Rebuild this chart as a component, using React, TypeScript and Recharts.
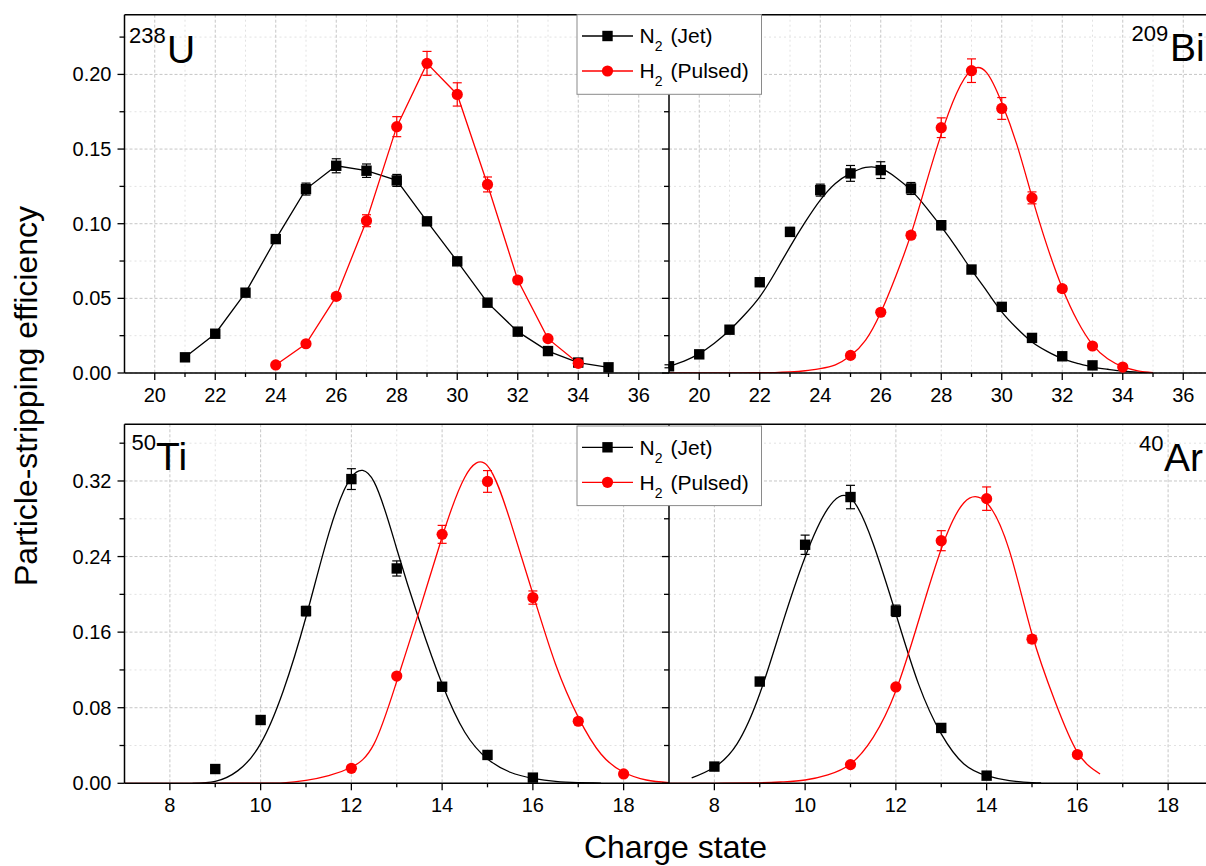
import { CartesianGrid, ComposedChart, ErrorBar, Line, ReferenceLine, Scatter, XAxis, YAxis } from 'recharts'

const FONT = 'Arial, "Liberation Sans", sans-serif'

// tick values
const topXTicks = [20, 21, 22, 23, 24, 25, 26, 27, 28, 29, 30, 31, 32, 33, 34, 35, 36]
const botXTicks = [8, 9, 10, 11, 12, 13, 14, 15, 16, 17, 18]
const topYTicks = [0, 0.025, 0.05, 0.075, 0.1, 0.125, 0.15, 0.175, 0.2, 0.225]
const botYTicks = [0, 0.04, 0.08, 0.12, 0.16, 0.2, 0.24, 0.28, 0.32, 0.36]

// 238U (measured, points joined)
const uN2X = [21, 22, 23, 24, 25, 26, 27, 28, 29, 30, 31, 32, 33, 34, 35]
const uN2Y = [0.0105, 0.0263, 0.0538, 0.0897, 0.1232, 0.1388, 0.1355, 0.129, 0.1016, 0.0748, 0.0471, 0.0277, 0.0147, 0.007, 0.0038]
const uN2Err = [0.0015, 0.0015, 0.0015, 0.002, 0.004, 0.0047, 0.0045, 0.004, 0.002, 0.0015, 0.0015, 0.001, 0.001, 0.001, 0.001]
const uH2X = [24, 25, 26, 27, 28, 29, 30, 31, 32, 33, 34]
const uH2Y = [0.0054, 0.0196, 0.0513, 0.102, 0.165, 0.2074, 0.1866, 0.1263, 0.0623, 0.023, 0.0065]
const uH2Err = [0.001, 0.001, 0.002, 0.004, 0.0067, 0.008, 0.0078, 0.005, 0.002, 0.001, 0.001]

// 209Bi
const biN2X = [19, 20, 21, 22, 23, 24, 25, 26, 27, 28, 29, 30, 31, 32, 33]
const biN2Y = [0.0045, 0.0125, 0.029, 0.0608, 0.0945, 0.1225, 0.1337, 0.1359, 0.1236, 0.099, 0.0693, 0.0443, 0.0235, 0.0112, 0.0051]
const biN2Err = [0.001, 0.001, 0.0015, 0.002, 0.003, 0.004, 0.0053, 0.0056, 0.004, 0.003, 0.002, 0.0015, 0.001, 0.001, 0.001]
const biH2X = [25, 26, 27, 28, 29, 30, 31, 32, 33, 34]
const biH2Y = [0.0118, 0.0407, 0.0923, 0.1643, 0.2025, 0.1772, 0.1173, 0.0565, 0.0181, 0.004]
const biH2Err = [0.001, 0.0015, 0.002, 0.0066, 0.0079, 0.0073, 0.004, 0.002, 0.001, 0.001]
const biFitX = [19, 19.5, 20, 20.5, 21, 21.5, 22, 22.5, 23, 23.5, 24, 24.5, 25, 25.5, 26, 26.5, 27, 27.5, 28, 28.5, 29, 29.5, 30, 30.5, 31, 31.5, 32, 32.5, 33, 33.5, 34, 34.5, 35]
const biN2FitY = [0.0045, 0.008, 0.013, 0.02, 0.0286, 0.039, 0.051, 0.067, 0.0845, 0.101, 0.1158, 0.127, 0.1337, 0.1377, 0.137, 0.131, 0.1225, 0.111, 0.098, 0.084, 0.069, 0.055, 0.041, 0.03, 0.0208, 0.0145, 0.0096, 0.0065, 0.004, 0.0025, 0.0013, 0.0006, 0.0002]
const biH2FitY = [0, 0, 0, 0, 0, 0.0001, 0.0002, 0.0003, 0.0007, 0.0015, 0.003, 0.0055, 0.0115, 0.022, 0.0405, 0.065, 0.093, 0.127, 0.16, 0.187, 0.2029, 0.2012, 0.181, 0.153, 0.118, 0.085, 0.057, 0.035, 0.019, 0.0095, 0.0042, 0.0014, 0.0002]

// 50Ti
const tiN2X = [9, 10, 11, 12, 13, 14, 15, 16]
const tiN2Y = [0.0151, 0.067, 0.1823, 0.322, 0.2274, 0.1022, 0.03, 0.006]
const tiN2Err = [0.001, 0.002, 0.005, 0.011, 0.008, 0.002, 0.001, 0.001]
const tiH2X = [12, 13, 14, 15, 16, 17, 18]
const tiH2Y = [0.0159, 0.1135, 0.2635, 0.3195, 0.1966, 0.0657, 0.0099]
const tiH2Err = [0.001, 0.002, 0.0095, 0.0115, 0.007, 0.002, 0.001]
const tiN2FitX = [8.5, 9, 9.5, 10, 10.5, 11, 11.5, 12, 12.5, 13, 13.5, 14, 14.5, 15, 15.5, 16, 16.5, 17, 17.5]
const tiN2FitY = [0, 0.002, 0.0134, 0.042, 0.098, 0.176, 0.264, 0.324, 0.319, 0.248, 0.172, 0.105, 0.054, 0.0258, 0.0117, 0.0053, 0.002, 0.0007, 0.0002]
const tiH2FitX = [7, 8, 9, 10, 10.5, 11, 11.5, 12, 12.5, 13, 13.5, 14, 14.5, 15, 15.5, 16, 16.5, 17, 17.5, 18, 18.5, 19]
const tiH2FitY = [0, 0, 0, 0.0001, 0.0004, 0.003, 0.008, 0.017, 0.0417, 0.108, 0.183, 0.2607, 0.324, 0.336, 0.278, 0.2006, 0.126, 0.07, 0.031, 0.0117, 0.0035, 0.0007]

// 40Ar
const arN2X = [8, 9, 10, 11, 12, 13, 14]
const arN2Y = [0.0177, 0.1077, 0.2525, 0.303, 0.1826, 0.0586, 0.0081]
const arN2Err = [0.001, 0.002, 0.0102, 0.0124, 0.006, 0.002, 0.001]
const arH2X = [11, 12, 13, 14, 15, 16]
const arH2Y = [0.0198, 0.102, 0.2568, 0.3013, 0.1526, 0.0304]
const arH2Err = [0.001, 0.002, 0.0106, 0.0124, 0.004, 0.002]
const arN2FitX = [7.5, 8, 8.5, 9, 9.5, 10, 10.5, 11, 11.5, 12, 12.5, 13, 13.5, 14, 14.5, 15, 15.2]
const arN2FitY = [0.0057, 0.017, 0.0417, 0.0947, 0.169, 0.2395, 0.2907, 0.302, 0.2536, 0.1794, 0.105, 0.0523, 0.0205, 0.0081, 0.0028, 0.0007, 0.0004]
const arH2FitX = [7, 8, 9, 9.5, 10, 10.5, 11, 11.5, 12, 12.5, 13, 13.5, 14, 14.5, 15, 15.5, 16, 16.5]
const arH2FitY = [0, 0, 0.0005, 0.0015, 0.0035, 0.009, 0.0205, 0.0487, 0.098, 0.172, 0.248, 0.297, 0.297, 0.2465, 0.158, 0.0876, 0.033, 0.0099]

const gases = [
  { main: 'N', sub: '2', rest: '(Jet)', color: '#000000', shape: 'square' },
  { main: 'H', sub: '2', rest: '(Pulsed)', color: '#ff0000', shape: 'circle' },
]

const pts = (xs: number[], ys: number[], errs?: number[]) =>
  xs.map((x, i) => ({ x, y: ys[i], err: errs ? errs[i] : 0 }))

const PLOT_W = 544.5

const Square = (p: any) => <rect x={p.cx - 5.2} y={p.cy - 5.2} width={10.4} height={10.4} fill="#000" />
const Circle = (p: any) => <circle cx={p.cx} cy={p.cy} r={5.6} fill="#ff0000" />

function XTick(props: any) {
  const { x, y, payload } = props
  const major = payload.value % 2 === 0
  return (
    <g>
      <line x1={x} y1={y} x2={x} y2={y + (major ? 7 : 4)} stroke="#000" strokeWidth={1.3} />
      {major && (
        <text x={x} y={y + 29} textAnchor="middle" fontSize={20} fontFamily={FONT} fill="#000">
          {payload.value}
        </text>
      )}
    </g>
  )
}

function YTick(props: any) {
  const { x, y, payload, index, showLabel } = props
  const major = index % 2 === 0
  return (
    <g>
      <line x1={x - (major ? 7 : 5)} y1={y} x2={x} y2={y} stroke="#000" strokeWidth={1.3} />
      {major && showLabel && (
        <text x={x - 13} y={y + 7} textAnchor="end" fontSize={20} fontFamily={FONT} fill="#000">
          {payload.value.toFixed(2)}
        </text>
      )}
    </g>
  )
}

type Series = { x: number[]; y: number[]; err?: number[]; color: string; square: boolean }

function Panel(props: {
  left: number
  top: number
  plotTop: number
  plotH: number
  yAxisW: number
  showYLabels: boolean
  xDomain: [number, number]
  xTicks: number[]
  yDomain: [number, number]
  yTicks: number[]
  fits: Series[]
  points: Series[]
  joinPoints?: boolean
}) {
  const { left, top, plotTop, plotH, yAxisW, showYLabels, xDomain, xTicks, yDomain, yTicks, fits, points, joinPoints } = props
  const width = yAxisW + PLOT_W + 10
  const height = plotTop + plotH + 40
  const majorX = xTicks.filter(v => v % 2 === 0)
  const minorX = xTicks.filter(v => v % 2 !== 0)
  const majorY = yTicks.filter((_, i) => i % 2 === 0)
  const minorY = yTicks.filter((_, i) => i % 2 !== 0)
  return (
    <div style={{ position: 'absolute', left, top }}>
      <ComposedChart width={width} height={height} margin={{ top: plotTop, right: 10, bottom: 0, left: 0 }}>
        <CartesianGrid horizontalValues={minorY} verticalValues={minorX} stroke="#e2e2e2" strokeDasharray="2 3" />
        <CartesianGrid horizontalValues={majorY} verticalValues={majorX} stroke="#c6c6c6" strokeDasharray="3 2" />
        <XAxis
          type="number"
          dataKey="x"
          domain={xDomain}
          ticks={xTicks}
          interval={0}
          allowDataOverflow
          height={40}
          tickSize={0}
          tickMargin={0}
          tickLine={false}
          tick={<XTick />}
          axisLine={{ stroke: '#000', strokeWidth: 1.5 }}
        />
        <YAxis
          type="number"
          dataKey="y"
          domain={yDomain}
          ticks={yTicks}
          interval={0}
          allowDataOverflow
          width={yAxisW}
          tickSize={0}
          tickMargin={0}
          tickLine={false}
          tick={<YTick showLabel={showYLabels} />}
          axisLine={{ stroke: '#000', strokeWidth: 1.5 }}
        />
        <ReferenceLine y={yDomain[1]} stroke="#000" strokeWidth={1.5} />
        {fits.map((s, i) => (
          <Line
            key={'f' + i}
            data={pts(s.x, s.y)}
            dataKey="y"
            type="natural"
            stroke={s.color}
            strokeWidth={1.3}
            dot={false}
            isAnimationActive={false}
          />
        ))}
        {joinPoints &&
          points.map((s, i) => (
            <Line
              key={'j' + i}
              data={pts(s.x, s.y)}
              dataKey="y"
              type="linear"
              stroke={s.color}
              strokeWidth={1.3}
              dot={false}
              isAnimationActive={false}
            />
          ))}
        {points.map((s, i) => (
          <Scatter
            key={'p' + i}
            data={pts(s.x, s.y, s.err)}
            dataKey="y"
            shape={s.square ? Square : Circle}
            isAnimationActive={false}
          >
            <ErrorBar dataKey="err" direction="y" width={4.5} stroke={s.color} strokeWidth={1.2} isAnimationActive={false} />
          </Scatter>
        ))}
      </ComposedChart>
    </div>
  )
}

function LegendBox({ top }: { top: number }) {
  return (
    <g>
      <rect x={577} y={top} width={184.5} height={79.6} fill="#fff" stroke="#8a8a8a" strokeWidth={1} />
      {gases.map((g, i) => {
        const ly = top + 21.3 + 35 * i
        const by = top + 28.6 + 35 * i
        return (
          <g key={g.main}>
            <line x1={582} y1={ly} x2={633} y2={ly} stroke={g.color} strokeWidth={1.3} />
            {g.shape === 'square' ? (
              <rect x={602.3} y={ly - 5.2} width={10.4} height={10.4} fill={g.color} />
            ) : (
              <circle cx={607.5} cy={ly} r={5.6} fill={g.color} />
            )}
            <text x={639.5} y={by} fontSize={21} fontFamily={FONT} fill="#000">
              {g.main}
              <tspan fontSize={14} dy={8}>
                {g.sub}
              </tspan>
              <tspan dy={-8} dx={8}>
                {g.rest}
              </tspan>
            </text>
          </g>
        )
      })}
    </g>
  )
}

function Isotope({ x, y, mass, name, x2 }: { x: number; y: number; mass: string; name: string; x2: number }) {
  return (
    <text fontFamily={FONT} fill="#000">
      <tspan x={x} y={y - 20} fontSize={22}>
        {mass}
      </tspan>
      <tspan x={x2} y={y} fontSize={39}>
        {name}
      </tspan>
    </text>
  )
}

export default function App() {
  return (
    <div style={{ position: 'absolute', left: 0, top: 0, width: 1206, height: 866, overflow: 'hidden', background: '#fff', fontFamily: FONT }}>
      <Panel
        left={0}
        top={0}
        plotTop={14.7}
        plotH={358.3}
        yAxisW={124.5}
        showYLabels
        xDomain={[19, 37]}
        xTicks={topXTicks}
        yDomain={[0, 0.24]}
        yTicks={topYTicks}
        fits={[]}
        joinPoints
        points={[
          { x: uN2X, y: uN2Y, err: uN2Err, color: '#000', square: true },
          { x: uH2X, y: uH2Y, err: uH2Err, color: '#ff0000', square: false },
        ]}
      />
      <Panel
        left={609}
        top={0}
        plotTop={14.7}
        plotH={358.3}
        yAxisW={60}
        showYLabels={false}
        xDomain={[19, 37]}
        xTicks={topXTicks}
        yDomain={[0, 0.24]}
        yTicks={topYTicks}
        fits={[
          { x: biFitX, y: biN2FitY, color: '#000', square: true },
          { x: biFitX, y: biH2FitY, color: '#ff0000', square: false },
        ]}
        points={[
          { x: biN2X, y: biN2Y, err: biN2Err, color: '#000', square: true },
          { x: biH2X, y: biH2Y, err: biH2Err, color: '#ff0000', square: false },
        ]}
      />
      <Panel
        left={0}
        top={410}
        plotTop={14.3}
        plotH={359}
        yAxisW={124.5}
        showYLabels
        xDomain={[7, 19]}
        xTicks={botXTicks}
        yDomain={[0, 0.38]}
        yTicks={botYTicks}
        fits={[
          { x: tiN2FitX, y: tiN2FitY, color: '#000', square: true },
          { x: tiH2FitX, y: tiH2FitY, color: '#ff0000', square: false },
        ]}
        points={[
          { x: tiN2X, y: tiN2Y, err: tiN2Err, color: '#000', square: true },
          { x: tiH2X, y: tiH2Y, err: tiH2Err, color: '#ff0000', square: false },
        ]}
      />
      <Panel
        left={609}
        top={410}
        plotTop={14.3}
        plotH={359}
        yAxisW={60}
        showYLabels={false}
        xDomain={[7, 19]}
        xTicks={botXTicks}
        yDomain={[0, 0.38]}
        yTicks={botYTicks}
        fits={[
          { x: arN2FitX, y: arN2FitY, color: '#000', square: true },
          { x: arH2FitX, y: arH2FitY, color: '#ff0000', square: false },
        ]}
        points={[
          { x: arN2X, y: arN2Y, err: arN2Err, color: '#000', square: true },
          { x: arH2X, y: arH2Y, err: arH2Err, color: '#ff0000', square: false },
        ]}
      />
      <svg width={1206} height={866} style={{ position: 'absolute', left: 0, top: 0, pointerEvents: 'none' }}>
        <LegendBox top={14.7} />
        <LegendBox top={426} />
        <Isotope x={129} y={63} mass="238" name="U" x2={167} />
        <Isotope x={1131.5} y={61} mass="209" name="Bi" x2={1170} />
        <Isotope x={131.5} y={470} mass="50" name="Ti" x2={156} />
        <Isotope x={1139} y={471} mass="40" name="Ar" x2={1164} />
        <text transform="translate(37, 396) rotate(-90)" textAnchor="middle" fontSize={32} fontFamily={FONT} fill="#000">
          Particle-stripping efficiency
        </text>
        <text x={675.5} y={858} textAnchor="middle" fontSize={32} fontFamily={FONT} fill="#000">
          Charge state
        </text>
      </svg>
    </div>
  )
}
